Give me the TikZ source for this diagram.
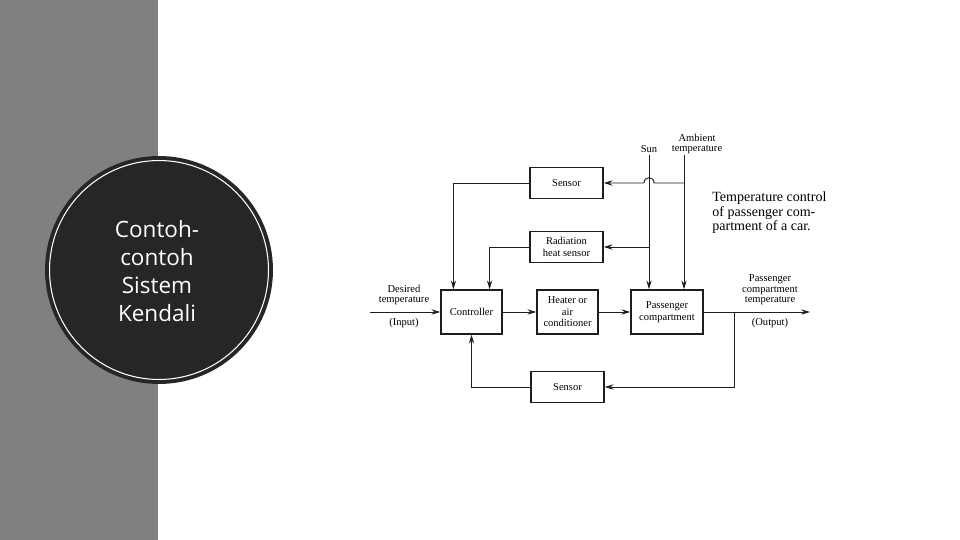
\documentclass[tikz,border=0pt]{standalone}
\usepackage{fontspec}
\setmainfont{Liberation Serif}
\newfontfamily\slidefont{Open Sans}
\definecolor{panelGray}{RGB}{128, 128, 128}
\definecolor{diskDark}{RGB}{38, 38, 38}
\definecolor{lineDark}{RGB}{30, 30, 30}
\usepackage{tikz}
\usetikzlibrary{arrows.meta, positioning, calc}

\begin{document}
\begin{tikzpicture}[
    x=0.02cm, y=-0.02cm,
    block/.style={draw=lineDark, line width=0.8pt, fill=white, align=center, inner sep=1pt,
                  font=\fontsize{6}{6.6}\selectfont},
    smallblock/.style={block, minimum width=1.46cm, minimum height=0.62cm},
    bigblock/.style={block, minimum height=0.88cm},
    lbl/.style={align=center, inner sep=0pt, font=\fontsize{6}{5.9}\selectfont},
    arr/.style={-{Stealth[length=5pt, width=3pt]}, line width=0.55pt, lineDark},
    wire/.style={line width=0.55pt, lineDark}
  ]
    \useasboundingbox (0,0) rectangle (960,540);

    % slide background
    \fill[panelGray] (0,0) rectangle (158,540);
    \node[circle, fill=diskDark, minimum size=4.56cm, inner sep=0pt] (disk) at (159,270) {};
    \node[circle, draw=white, line width=0.6pt, minimum size=4.38cm, inner sep=0pt] at (disk.center) {};
    \node[align=center, text=white, font=\slidefont\fontsize{12.8}{16}\selectfont] (title) at (157,271)
      {Contoh-\\contoh\\Sistem\\Kendali};

    % blocks
    \node[smallblock] (sensorTop) at (566.5,183) {Sensor};
    \node[smallblock] (radSensor) at (566.5,247) {Radiation\\heat sensor};
    \node[bigblock, minimum width=1.22cm] (controller) at (471.5,312) {Controller};
    \node[bigblock, minimum width=1.22cm] (heater) at (567.5,312) {Heater or\\air\\conditioner};
    \node[bigblock, minimum width=1.44cm] (cabin) at (667,312) {Passenger\\compartment};
    \node[smallblock] (sensorBot) at (567.5,387) {Sensor};

    % free ends
    \coordinate (in) at (370,312);
    \coordinate (out) at (810,312);
    \coordinate (tap) at (734,312);
    \coordinate (sun) at (649,155);
    \coordinate (amb) at (684,155);

    % labels
    \node[lbl] (sunLbl) at (649,149) {Sun};
    \node[lbl] (ambLbl) at (697,144) {Ambient\\temperature};
    \node[lbl] (desLbl) at (404,295) {Desired\\temperature};
    \node[lbl] (inLbl) at (404,323) {(Input)};
    \node[lbl] (outLbl) at (770,290) {Passenger\\compartment\\temperature};
    \node[lbl] (outLbl2) at (770,323) {(Output)};
    \node[align=left, anchor=north west, inner sep=0pt, font=\fontsize{8}{8.5}\selectfont] (caption) at (712,191)
      {Temperature control\\of passenger com-\\partment of a car.};

    % forward path
    \draw[arr] (in) -- (controller.west);
    \draw[arr] (controller.east) -- (heater.west);
    \draw[arr] (heater.east) -- (cabin.west);
    \draw[arr] (cabin.east) -- (out);

    % disturbances
    \draw[arr] (sun) -- (sun |- cabin.north);
    \draw[arr] (amb) -- (amb |- cabin.north);
    \draw[arr] (amb |- sensorTop.east) -- ($(sun |- sensorTop.east)+(5,0)$)
      .. controls +(0,-7) and +(0,-7) .. ($(sun |- sensorTop.east)+(-5,0)$) -- (sensorTop.east);
    \draw[arr] (sun |- radSensor.east) -- (radSensor.east);

    % sensors to controller
    \draw[arr] (sensorTop.west) -| ($(controller.north west)!0.21!(controller.north east)$);
    \draw[arr] (radSensor.west) -| ($(controller.north west)!0.79!(controller.north east)$);
    \draw[arr] (tap) |- (sensorBot.east);
    \draw[arr] (sensorBot.west) -| (controller.south);
  \end{tikzpicture}
\end{document}
